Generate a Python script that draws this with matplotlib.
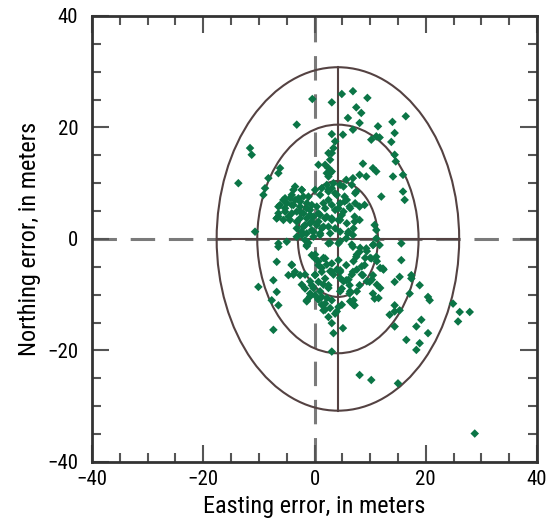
import matplotlib
matplotlib.use("Agg")
import matplotlib.pyplot as plt
from matplotlib.patches import Ellipse
from matplotlib.ticker import MultipleLocator
from matplotlib import font_manager

# --- point errors (meters)
easting = [
    # upper part
    -0.4, 3.1, -3.2, 3.1, -11.6, -11.3, 3.7, 3.4, 2.5, 3.1, 2.8, 0.7, 1.9, 2.5, 3.1, 2.2, -6.2, -6.5, -8.3,
    4.9, 6.9, 9.5, 7.5, 8.4, 6.0, 8.1, 6.9, 5.1, 11.4, 14.0, 16.4, 11.1, 11.7, 10.2, 14.4, 13.8, 14.4, 14.6,
    8.7, 10.5, 11.1, 8.1, 9.3, 14.1, 15.9, 6.9,
    # left / centre
    -13.7, -8.9, -9.2, -3.8, -2.3, -4.4, -3.5, -5.6, -6.5, -5.3, -4.1, -2.6, -1.1, 0.1, 1.3, 2.5, 3.1,
    -0.5, -1.4, -2.6, -0.8, 0.7, 1.9, 3.1, 4.3, 4.0, -6.5, -6.8, -4.7, -3.2, -1.7, -0.5, 0.7, 1.9, 3.1,
    4.3, -2.3, -0.5, 1.3, 2.5, 3.7, -3.2, -1.7, -0.2, 1.0, 2.8, 4.6, -6.5, -6.5, -1.4, -5.0, 2.5, 4.3,
    -6.8, -4.1, -3.5, -2.6, -4.7, -7.4, -10.1, -10.7, -0.5, 0.1, 0.7, 1.9, 3.1, 4.3, 0.1, 1.3, 1.9, 3.1,
    4.6, -0.5, -1.7, 0.7, 2.5,
    # right / centre
    5.7, 4.6, 5.4, 5.4, 7.5, 8.1, 9.0, 6.3, 4.9, 7.2, 8.1, 7.2, 10.8, 11.1, 6.0, 6.9, 5.7, 11.1, 10.5,
    11.7, 6.9, 8.1, 9.3, 7.5, 10.2, 11.1, 9.0, 5.7, 12.3, 4.6, 6.9, 8.7, 10.5, 5.7, 9.9, 8.1, 6.3, 4.9,
    15.3, 14.4, 17.4, 17.4, 18.9, 15.6, 15.6, 12.0, 15.9, 16.2,
    # lower part
    -6.8, -7.7, -6.5, -7.4, -1.4, -0.8, 0.1, 1.3, 1.9, 3.1, 1.6, 2.5, 3.1, 3.4, 3.1, 4.3, 3.7,
    6.3, 7.0, 7.2, 10.5, 10.8, 17.1, 20.4, 20.7, 14.4, 13.5, 14.4, 15.3, 14.4, 5.1, 19.2, 18.3, 20.4,
    16.5, 18.9, 18.3, 24.9, 26.1, 27.9, 25.8, 8.1, 10.2, 15.0, 28.8,
    # dense upper core
    -3.5, -2.3, -4.1, -2.9, -2.0, -5.3, -6.2, -5.0, -3.8, -2.6, -1.4, -6.5, -5.3, -4.1, -3.2, -2.0, -0.8,
    0.4, 1.6, 2.5, 1.0, 2.5, 3.7, 2.2, 3.4, 5.2, 6.7, 7.3, 5.8, 4.6, 3.7, 5.2, 6.4, 7.3, -6.8, -5.6, -4.4,
    -2.6, -1.4, -0.2, 1.0, 2.2, 3.1, -0.8, 0.4, 1.6, -2.0, -3.2, 4.6, 5.8, 6.1, 7.0, -1.4, -0.2, 1.0,
    -2.3, 2.8, 2.5,
    # dense lower core
    -1.1, -1.4, 2.8, 4.6, 6.7, 8.2, 9.4, 10.6, 10.0, 11.2, 11.8, 12.4, 0.1, 0.7, 1.6, 1.3, 2.2, 2.8, 3.4,
    4.0, 4.6, 5.2, 6.1, 6.7, 7.6, 8.5, 7.0, 7.6, 9.1, 8.5, 9.4, 10.3, 11.2, 11.8, 11.5, 0.1, -0.8, -1.7,
    -2.3, -4.1, -3.8, -0.2, 1.0, 1.6, 2.5, -0.8, -1.4, 0.7, 2.2, 1.3, 1.9, 2.8, 4.0, 4.9, 6.4, 7.0, 7.6,
    6.4, 4.6,
]
northing = [
    # upper part
    25.1, 24.5, 20.5, 18.8, 16.3, 15.1, 17.5, 16.3, 15.4, 15.4, 14.2, 13.3, 13.3, 12.7, 12.1, 11.8, 12.7, 11.8, 10.9,
    26.0, 26.5, 25.3, 23.6, 22.6, 21.7, 20.8, 19.6, 18.7, 20.2, 21.0, 22.0, 18.4, 18.2, 17.8, 19.0, 17.4, 15.1, 13.9,
    13.5, 12.7, 12.1, 11.5, 11.2, 11.2, 11.5, 10.9,
    # left / centre
    10.0, 9.1, 7.9, 8.8, 8.8, 7.3, 7.0, 7.0, 5.8, 5.5, 6.1, 6.7, 7.6, 8.8, 9.1, 8.5, 9.1,
    6.1, 5.5, 4.9, 4.3, 4.6, 5.5, 6.1, 5.5, 7.9, 4.0, 3.7, 4.0, 3.1, 2.5, 3.1, 3.1, 3.7, 3.7,
    3.4, 1.3, 1.6, 1.9, 2.2, 1.9, 0.4, -0.2, 0.4, 0.7, 1.0, 1.3, -0.8, -1.4, -1.1, -0.5, -0.8, -0.8,
    -4.1, -4.7, -5.9, -6.5, -6.5, -7.4, -8.6, 1.3, -2.9, -3.5, -4.7, -3.5, -4.4, -3.8, -6.5, -5.9, -7.1, -5.9,
    -5.6, -8.3, -8.9, -7.7, -8.3,
    # right / centre
    10.6, 9.7, 7.6, 6.7, 8.5, 5.8, 6.1, 5.8, 4.3, 4.0, 3.4, 3.1, 2.5, 1.6, 1.0, 0.7, 0.1, 0.1, -1.1,
    -1.1, -1.4, -2.3, -1.7, -3.2, -3.5, -3.2, -4.7, -4.7, -5.3, -5.9, -5.9, -6.5, -6.5, -7.4, -7.7, -8.3, -8.3, -8.9,
    -6.8, -7.7, -6.5, -7.1, -8.3, -0.8, -3.8, 7.6, 8.5, 7.0,
    # lower part
    -9.5, -11.0, -11.9, -16.3, -11.0, -9.8, -10.1, -10.4, -11.6, -11.0, -12.8, -14.0, -15.1, -16.9, -20.2, -12.2, -13.4,
    -9.8, -11.0, -11.9, -9.8, -10.7, -9.8, -10.4, -11.0, -11.9, -13.6, -13.0, -12.8, -15.7, -16.0, -14.5, -15.7, -16.9,
    -18.1, -18.7, -19.9, -11.6, -13.1, -13.1, -14.8, -24.4, -25.3, -25.9, -34.9,
    # dense upper core
    9.4, 8.8, 7.9, 7.3, 7.6, 7.3, 6.1, 6.4, 6.1, 5.8, 6.4, 4.6, 4.9, 4.6, 4.9, 4.6, 5.2,
    5.8, 6.4, 7.0, 7.9, 8.8, 8.2, 9.7, 10.0, 9.4, 9.7, 8.2, 7.0, 6.4, 5.2, 4.9, 5.5, 6.4, 3.7, 3.4, 3.4,
    3.7, 3.7, 4.0, 4.3, 4.0, 3.4, 2.8, 2.5, 2.2, 2.2, 1.9, 3.4, 2.8, 1.3, 1.9, 1.0, 1.3, 1.0,
    0.7, 11.8, 11.2,
    # dense lower core
    -0.7, -1.3, -0.7, -0.4, -1.0, -1.6, -2.2, -1.0, -3.4, -4.0, -5.2, -5.5, -2.8, -4.0, -3.4, -5.2, -4.6, -5.8, -6.4,
    -5.5, -7.0, -7.6, -7.3, -6.4, -5.5, -4.9, -4.0, -2.8, -3.4, -6.4, -7.6, -7.3, -8.2, -8.8, -10.6, -6.4, -7.6, -6.4,
    -8.2, -4.6, -6.4, -8.8, -9.4, -8.2, -8.8, -10.3, -11.2, -10.9, -10.6, -11.8, -12.7, -12.4, -13.0, -11.8, -11.2, -11.8, -9.4,
    -9.4, -9.4,
]

# error ellipses (centre and semi-axes, meters)
center_e = 4.2
center_n = 0.0
semi_e = [7.2, 14.5, 21.8]
semi_n = [10.4, 20.5, 30.8]

# narrow face if one is around, else condensed DejaVu
names = set(f.name for f in font_manager.fontManager.ttflist)
narrow = [n for n in ['Liberation Sans Narrow', 'Roboto Condensed', 'Open Sans Condensed',
                      'DejaVu Sans Condensed'] if n in names]
plt.rcParams['font.family'] = narrow[:1] + ['DejaVu Sans']
plt.rcParams['font.stretch'] = 'condensed'

fig = plt.figure(figsize=(5.48, 5.31), dpi=100)
ax = fig.add_axes([0.168, 0.130, 0.812, 0.840])

# dashed zero lines
dash = (0, (8, 4.5))
ax.axhline(0, color='#7a7a7a', lw=2.2, ls=dash, zorder=1)
ax.axvline(0, color='#7a7a7a', lw=2.2, ls=dash, zorder=1)

ring_color = '#544242'
for a, b in zip(semi_e, semi_n):
    ax.add_patch(Ellipse((center_e, center_n), 2 * a, 2 * b, fill=False,
                         ec=ring_color, lw=1.5, zorder=2))
ax.plot([center_e, center_e], [center_n - semi_n[-1], center_n + semi_n[-1]],
        color=ring_color, lw=1.5, zorder=2)
ax.plot([center_e - semi_e[-1], center_e + semi_e[-1]], [center_n, center_n],
        color=ring_color, lw=1.5, zorder=2)

ax.scatter(easting, northing, marker='D', s=19, c='#0b7546', edgecolors='none', zorder=3)

ax.set_xlim(-40, 40)
ax.set_ylim(-40, 40)
for axis in (ax.xaxis, ax.yaxis):
    axis.set_major_locator(MultipleLocator(20))
    axis.set_minor_locator(MultipleLocator(5))
ax.tick_params(which='both', direction='in', top=True, right=True,
               width=1.5, color='#555555', labelsize=15)
ax.tick_params(which='major', length=12)
ax.tick_params(which='minor', length=6.5)
ax.tick_params(axis='x', pad=6)
ax.tick_params(axis='y', pad=10)

for sp in ax.spines.values():
    sp.set_linewidth(2)
    sp.set_color('#333333')

ax.set_xlabel('Easting error, in meters', fontsize=17.5, labelpad=4)
ax.set_ylabel('Northing error, in meters', fontsize=17.5, labelpad=4)

plt.savefig('out.png', dpi=100)
